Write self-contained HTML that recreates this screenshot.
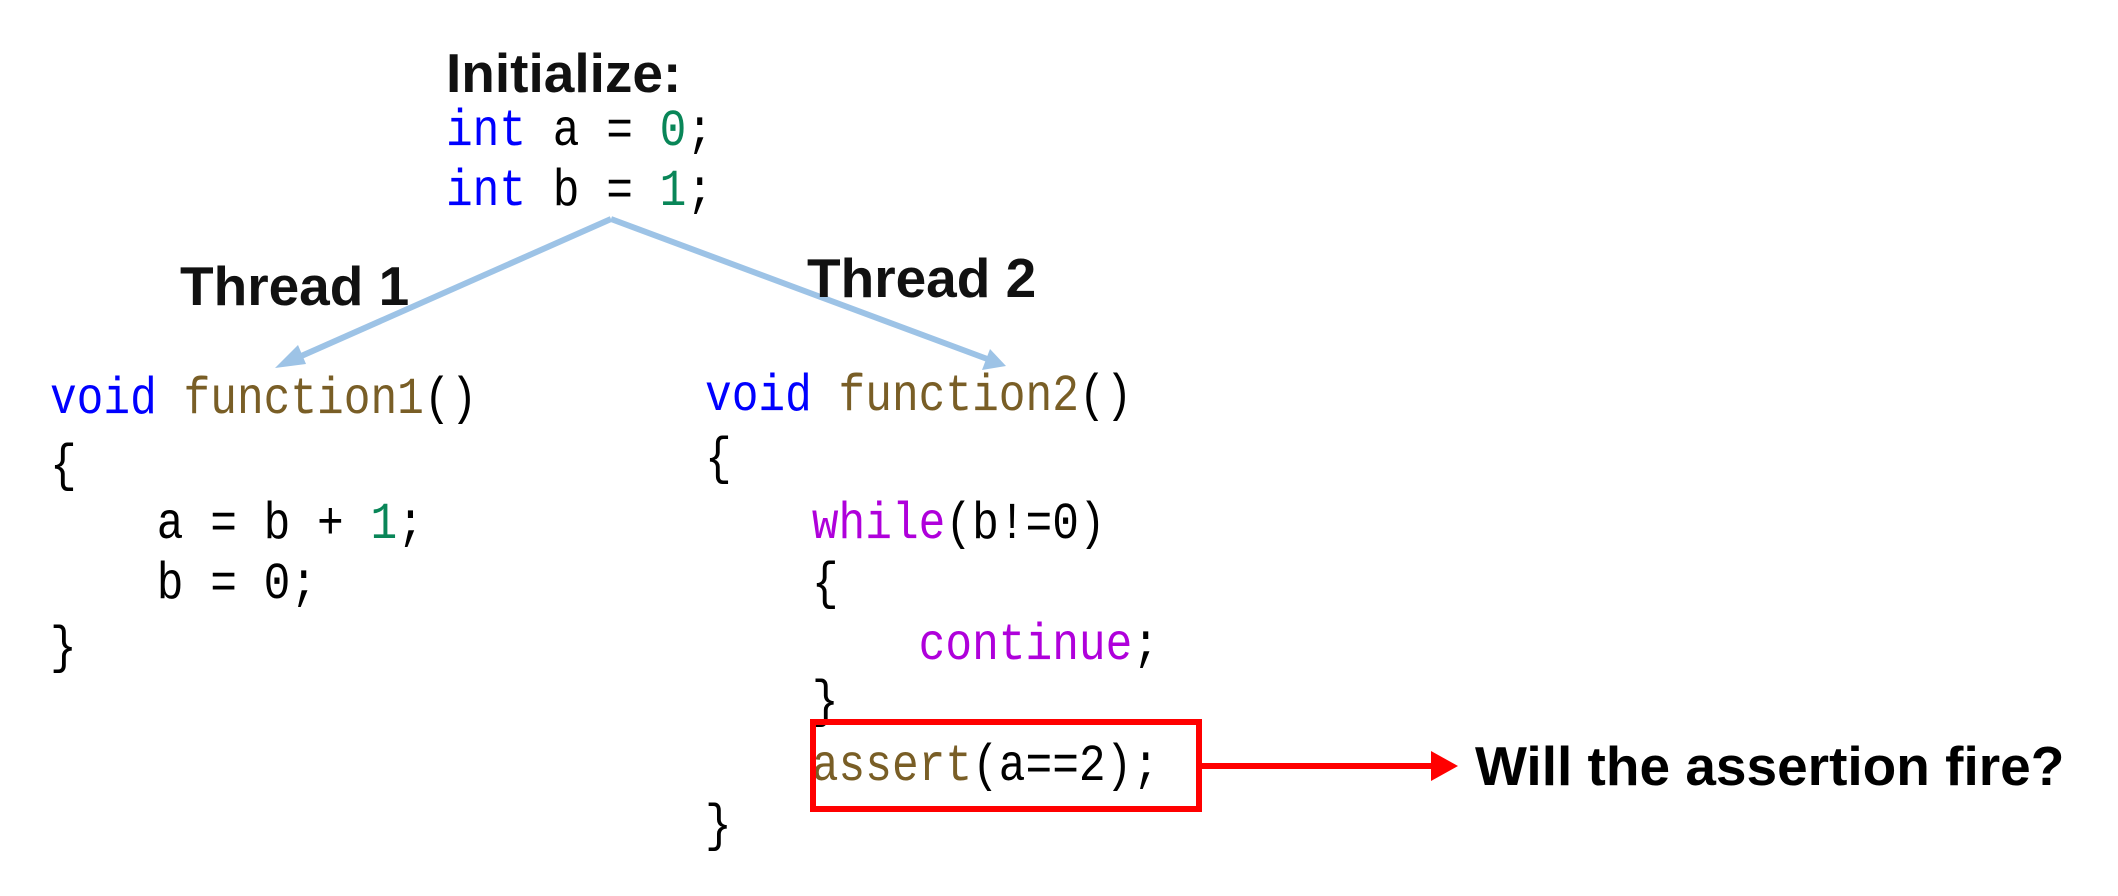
<!DOCTYPE html>
<html><head><meta charset="utf-8"><style>
html,body{margin:0;padding:0;background:#fff;}
svg{display:block;}
.h{font-family:"Liberation Sans",Arial,sans-serif;font-weight:bold;font-size:55px;fill:#111;}
.m{font-family:"Liberation Mono","DejaVu Sans Mono",monospace;font-size:52px;fill:#000;white-space:pre;}
.k{fill:#0000ff}.n{fill:#098658}.f{fill:#795e26}.p{fill:#af00db}
</style></head><body>
<svg width="2118" height="896" viewBox="0 0 2118 896" xmlns="http://www.w3.org/2000/svg">
<text class="h" x="446" y="92">Initialize:</text>
<g transform="scale(0.856,1)">
<text class="m" x="521" y="145" xml:space="preserve"><tspan class="k">int</tspan> a = <tspan class="n">0</tspan>;</text>
<text class="m" x="521" y="205" xml:space="preserve"><tspan class="k">int</tspan> b = <tspan class="n">1</tspan>;</text>

<text class="m" x="58.4" y="413" xml:space="preserve"><tspan class="k">void</tspan> <tspan class="f">function1</tspan>()</text>
<text class="m" x="58.4" y="480">{</text>
<text class="m" x="58.4" y="538" xml:space="preserve">    a = b + <tspan class="n">1</tspan>;</text>
<text class="m" x="58.4" y="598" xml:space="preserve">    b = 0;</text>
<text class="m" x="58.4" y="662">}</text>

<text class="m" x="823.6" y="410" xml:space="preserve"><tspan class="k">void</tspan> <tspan class="f">function2</tspan>()</text>
<text class="m" x="823.6" y="473">{</text>
<text class="m" x="823.6" y="538" xml:space="preserve">    <tspan class="p">while</tspan>(b!=0)</text>
<text class="m" x="823.6" y="598" xml:space="preserve">    {</text>
<text class="m" x="823.6" y="659" xml:space="preserve">        <tspan class="p">continue</tspan>;</text>
<text class="m" x="823.6" y="716" xml:space="preserve">    }</text>
<text class="m" x="823.6" y="780" xml:space="preserve">    <tspan class="f">assert</tspan>(a==2);</text>
<text class="m" x="823.6" y="840">}</text>
</g>

<g stroke="#9dc3e6" stroke-width="6" fill="none">
<line x1="611" y1="219" x2="290" y2="361"/>
<line x1="611" y1="219" x2="990" y2="360"/>
</g>
<polygon points="275,368 298,345 306,364" fill="#9dc3e6"/>
<polygon points="1006,366 982,370 990,349" fill="#9dc3e6"/>

<text class="h" x="180" y="305">Thread 1</text>
<text class="h" x="807" y="297">Thread 2</text>

<rect x="813" y="722" width="386" height="87" fill="none" stroke="#ff0000" stroke-width="6"/>
<line x1="1202" y1="766" x2="1435" y2="766" stroke="#ff0000" stroke-width="6"/>
<polygon points="1431,751 1458,766 1431,781" fill="#ff0000"/>
<text class="h" x="1475" y="785" style="fill:#000">Will the assertion fire?</text>
</svg>
</body></html>
